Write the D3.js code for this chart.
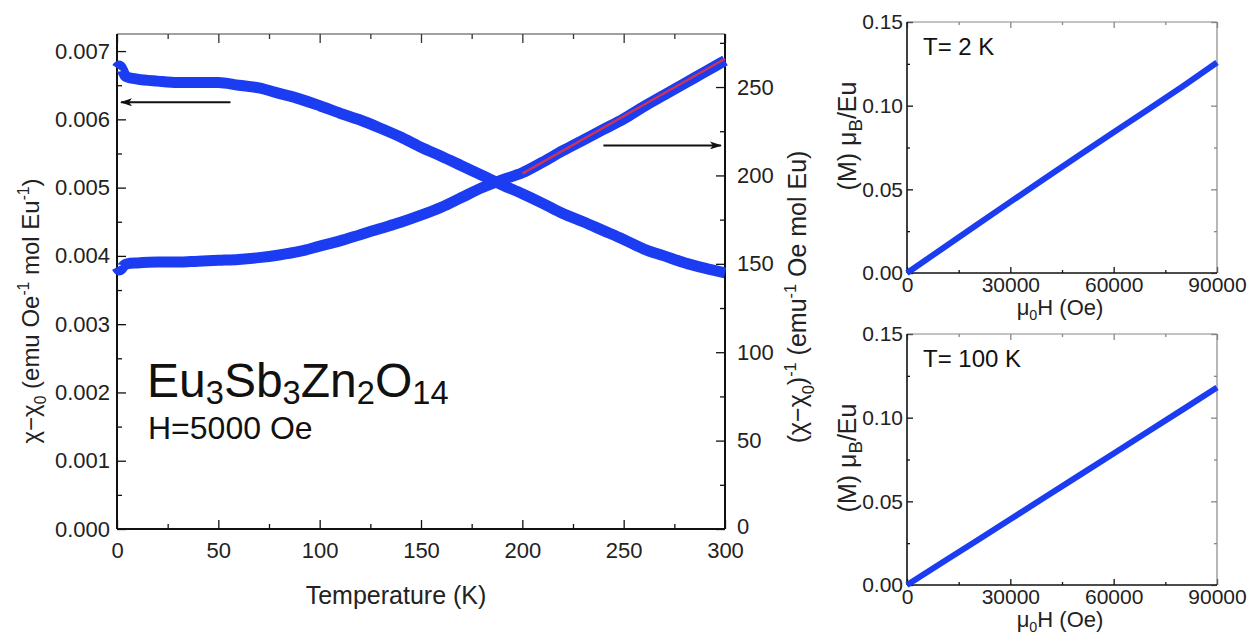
<!DOCTYPE html>
<html>
<head>
<meta charset="utf-8">
<script src="https://cdn.jsdelivr.net/npm/d3@7"></script>
<style>
  body { margin: 0; background: #fff; }
  svg { display: block; font-family: "Liberation Sans", Arial, sans-serif; }
</style>
</head>
<body>
<svg id="chart" width="1252" height="634"></svg>
<script>
// ---- data ----
const temps = [0, 1, 2, 3, 4, 5, 10, 20, 30, 40, 50, 60, 70, 80, 90, 100, 110, 120, 130, 140,
  150, 160, 170, 180, 190, 200, 210, 220, 230, 240, 250, 260, 270, 280, 290, 300];

// chi - chi0 (left axis)
const chiVals = [0.00675, 0.00678, 0.00676, 0.00670, 0.00664, 0.00662, 0.00659, 0.00656, 0.00654,
  0.00654, 0.00654, 0.00650, 0.00646, 0.00638, 0.00630, 0.00620, 0.00609, 0.00599, 0.00587,
  0.00574, 0.00559, 0.00546, 0.00532, 0.00518, 0.00504, 0.00491, 0.00477, 0.00462, 0.00450,
  0.00437, 0.00424, 0.00410, 0.00400, 0.00390, 0.00382, 0.00375];

// (chi - chi0)^-1 (right axis)
const invChiVals = [148, 146.5, 147, 148.5, 149.5, 150, 150.5, 151, 151, 151.5, 152, 152.5, 153.5,
  155, 157, 160, 163, 166.5, 170, 173.5, 177.5, 182, 187.5, 193, 197.5, 201.5, 207.5, 214, 220,
  226, 232, 239, 245.5, 252, 258.5, 265];

// Curie-Weiss fit (red line)
const fitT = [200, 300];
const fitVals = [201, 266];

// M vs H panels
const fieldH = [0, 10000, 20000, 30000, 40000, 50000, 60000, 70000, 80000, 90000];
const m2K = [0, 0.0142, 0.0284, 0.0425, 0.0565, 0.0704, 0.0841, 0.0977, 0.1115, 0.1258];
const m100K = [0, 0.0131, 0.0262, 0.0393, 0.0524, 0.0655, 0.0786, 0.0917, 0.1048, 0.1180];

// tick labels
const tempTicks = [0, 50, 100, 150, 200, 250, 300];
const chiTicks = [0, 0.001, 0.002, 0.003, 0.004, 0.005, 0.006, 0.007];
const invTicks = [0, 50, 100, 150, 200, 250];
const hTicks = [0, 30000, 60000, 90000];
const mTicks = [0, 0.05, 0.10, 0.15];

const BLUE = '#1b3cf0';
const FONT = '"Liberation Sans", Arial, sans-serif';
const svg = d3.select('#chart');

function richText(sel, parts, size, subDrop = 0.3, supRise = 0.4, small = 0.65) {
  // parts: [text, kind] kind = n | sub | sup
  let shift = 0;
  parts.forEach(([t, kind]) => {
    const target = kind === 'sub' ? size * subDrop : kind === 'sup' ? -size * supRise : 0;
    sel.append('tspan')
      .attr('dy', target - shift)
      .attr('font-size', kind === 'n' ? size : size * small)
      .text(t);
    shift = target;
  });
}

function minorOf(major, step) {
  return major.map(v => v + step);
}

function axisGroup(axis, transform, stroke, fontSize) {
  const g = svg.append('g').attr('transform', transform).call(axis);
  g.select('.domain').remove();
  g.selectAll('line').attr('stroke', stroke || '#111').attr('stroke-width', 1.3);
  g.selectAll('text').attr('font-size', fontSize || 22).attr('font-family', FONT).attr('fill', '#222');
  return g;
}

function frameLine(x1, y1, x2, y2, color, w) {
  svg.append('line').attr('x1', x1).attr('y1', y1).attr('x2', x2).attr('y2', y2)
    .attr('stroke', color).attr('stroke-width', w);
}

// ---- main panel ----
const main = { left: 117, right: 725, top: 34, bottom: 529 };
const x = d3.scaleLinear().domain([0, 300]).range([main.left, main.right]);
const yL = d3.scaleLinear().domain([0, 0.00725]).range([main.bottom, main.top]);
const yR = d3.scaleLinear().domain([0, 280]).range([main.bottom, main.top]);

// bottom
axisGroup(d3.axisBottom(x).tickValues(tempTicks).tickSize(-9).tickPadding(13).tickFormat(d3.format('d')),
  `translate(0,${main.bottom})`);
axisGroup(d3.axisBottom(x).tickValues(minorOf(tempTicks.slice(0, -1), 25)).tickSize(-5).tickFormat(''),
  `translate(0,${main.bottom})`);
// top
axisGroup(d3.axisTop(x).tickValues(tempTicks).tickSize(-9).tickFormat(''), `translate(0,${main.top})`, '#333');
axisGroup(d3.axisTop(x).tickValues(minorOf(tempTicks.slice(0, -1), 25)).tickSize(-5).tickFormat(''),
  `translate(0,${main.top})`, '#333');
// left
axisGroup(d3.axisLeft(yL).tickValues(chiTicks).tickSize(-9).tickPadding(7).tickFormat(d3.format('.3f')),
  `translate(${main.left},0)`);
axisGroup(d3.axisLeft(yL).tickValues(minorOf(chiTicks.slice(0, -1), 0.0005)).tickSize(-5).tickFormat(''),
  `translate(${main.left},0)`);
// right
const rightAxis = axisGroup(d3.axisRight(yR).tickValues(invTicks).tickSize(-9).tickPadding(12).tickFormat(d3.format('d')),
  `translate(${main.right},0)`);
// lift the "0" a touch so it clears the "300" below it
rightAxis.selectAll('.tick').filter(d => d === 0).select('text').attr('y', -3);
axisGroup(d3.axisRight(yR).tickValues(minorOf(invTicks, 25)).tickSize(-5).tickFormat(''),
  `translate(${main.right},0)`);

// frame
frameLine(main.left, main.top, main.right, main.top, '#444', 1.2);
frameLine(main.left, main.bottom, main.right, main.bottom, '#111', 2);
frameLine(main.left, main.top, main.left, main.bottom, '#111', 2);
frameLine(main.right, main.top, main.right, main.bottom, '#111', 2);

// curves
const chiLine = d3.line().x((d, i) => x(temps[i])).y(d => yL(d)).curve(d3.curveMonotoneX);
const invLine = d3.line().x((d, i) => x(temps[i])).y(d => yR(d)).curve(d3.curveMonotoneX);

svg.append('path').datum(chiVals).attr('d', chiLine)
  .attr('fill', 'none').attr('stroke', BLUE).attr('stroke-width', 11).attr('stroke-linejoin', 'round');
svg.append('path').datum(invChiVals).attr('d', invLine)
  .attr('fill', 'none').attr('stroke', BLUE).attr('stroke-width', 11).attr('stroke-linejoin', 'round');

// fit line
svg.append('path').datum(fitVals)
  .attr('d', d3.line().x((d, i) => x(fitT[i])).y(d => yR(d)))
  .attr('fill', 'none').attr('stroke', '#cc3355').attr('stroke-width', 2.4);

// arrows
const defs = svg.append('defs');
defs.append('marker').attr('id', 'head').attr('viewBox', '0 0 12 8').attr('refX', 11).attr('refY', 4)
  .attr('markerWidth', 12).attr('markerHeight', 8).attr('markerUnits', 'userSpaceOnUse').attr('orient', 'auto')
  .append('path').attr('d', 'M0,0 L12,4 L0,8 L3,4 Z').attr('fill', '#111');

svg.append('line').attr('x1', x(56)).attr('x2', x(2)).attr('y1', yL(0.00625)).attr('y2', yL(0.00625))
  .attr('stroke', '#111').attr('stroke-width', 2).attr('marker-end', 'url(#head)');
svg.append('line').attr('x1', x(240)).attr('x2', x(298)).attr('y1', yR(217)).attr('y2', yR(217))
  .attr('stroke', '#111').attr('stroke-width', 2).attr('marker-end', 'url(#head)');

// annotations
const formula = svg.append('text').attr('x', 147).attr('y', 397).attr('fill', '#111');
richText(formula, [['Eu', 'n'], ['3', 'sub'], ['Sb', 'n'], ['3', 'sub'], ['Zn', 'n'], ['2', 'sub'], ['O', 'n'], ['14', 'sub']],
  48, 0.15, 0.4, 0.68);
svg.append('text').attr('x', 148).attr('y', 439).attr('font-size', 32).attr('fill', '#111').text('H=5000 Oe');

// axis titles
svg.append('text').attr('x', 396).attr('y', 604)
  .attr('text-anchor', 'middle').attr('font-size', 25).attr('fill', '#222').text('Temperature (K)');

const leftTitle = svg.append('text').attr('transform', 'translate(39,311) rotate(-90)')
  .attr('text-anchor', 'middle').attr('fill', '#222');
richText(leftTitle, [['χ−χ', 'n'], ['0', 'sub'], [' (emu Oe', 'n'], ['-1', 'sup'], [' mol Eu', 'n'], ['-1', 'sup'], [')', 'n']], 24);

const rightTitle = svg.append('text').attr('transform', 'translate(806,297) rotate(-90)')
  .attr('text-anchor', 'middle').attr('fill', '#222');
richText(rightTitle, [['(χ−χ', 'n'], ['0', 'sub'], [')', 'n'], ['-1', 'sup'], [' (emu', 'n'], ['-1', 'sup'], [' Oe mol Eu)', 'n']], 25);

// ---- M vs H panels ----
function mhPanel(top, bottom, values, label, titleY) {
  const left = 907, right = 1217;
  const hx = d3.scaleLinear().domain([0, 90000]).range([left, right]);
  const my = d3.scaleLinear().domain([0, 0.15]).range([bottom, top]);

  axisGroup(d3.axisBottom(hx).tickValues(hTicks).tickSize(-6).tickPadding(4).tickFormat(d3.format('d')),
    `translate(0,${bottom})`, '#111', 21);
  axisGroup(d3.axisBottom(hx).tickValues(minorOf(hTicks.slice(0, -1), 15000)).tickSize(-3).tickFormat(''),
    `translate(0,${bottom})`);
  axisGroup(d3.axisTop(hx).tickValues(hTicks).tickSize(-6).tickFormat(''), `translate(0,${top})`, '#888');
  axisGroup(d3.axisTop(hx).tickValues(minorOf(hTicks.slice(0, -1), 15000)).tickSize(-3).tickFormat(''),
    `translate(0,${top})`, '#888');
  axisGroup(d3.axisLeft(my).tickValues(mTicks).tickSize(-6).tickPadding(4).tickFormat(d3.format('.2f')),
    `translate(${left},0)`, '#111', 21);
  axisGroup(d3.axisLeft(my).tickValues(minorOf(mTicks.slice(0, -1), 0.025)).tickSize(-3).tickFormat(''),
    `translate(${left},0)`);
  axisGroup(d3.axisRight(my).tickValues(mTicks).tickSize(-6).tickFormat(''), `translate(${right},0)`, '#888');
  axisGroup(d3.axisRight(my).tickValues(minorOf(mTicks.slice(0, -1), 0.025)).tickSize(-3).tickFormat(''),
    `translate(${right},0)`, '#888');

  frameLine(left, top, right, top, '#888', 1.2);
  frameLine(right, top, right, bottom, '#888', 1.2);
  frameLine(left, bottom, right, bottom, '#111', 1.6);
  frameLine(left, top, left, bottom, '#111', 1.6);

  svg.append('path').datum(values)
    .attr('d', d3.line().x((d, i) => hx(fieldH[i])).y(d => my(d)))
    .attr('fill', 'none').attr('stroke', BLUE).attr('stroke-width', 6);

  svg.append('text').attr('x', left + 16).attr('y', top + 33).attr('font-size', 24).attr('fill', '#111').text(label);

  const xt = svg.append('text').attr('x', 1060).attr('y', bottom + 42).attr('text-anchor', 'middle').attr('fill', '#222');
  richText(xt, [['μ', 'n'], ['0', 'sub'], ['H (Oe)', 'n']], 22, 0.22);

  const yt = svg.append('text').attr('transform', `translate(856,${titleY}) rotate(-90)`)
    .attr('text-anchor', 'middle').attr('fill', '#222');
  richText(yt, [['(M) μ', 'n'], ['B', 'sub'], ['/Eu', 'n']], 25, 0.25, 0.4, 0.75);
}

mhPanel(22, 273, m2K, 'T= 2 K', 136);
mhPanel(334, 585, m100K, 'T= 100 K', 458);
</script>
</body>
</html>
